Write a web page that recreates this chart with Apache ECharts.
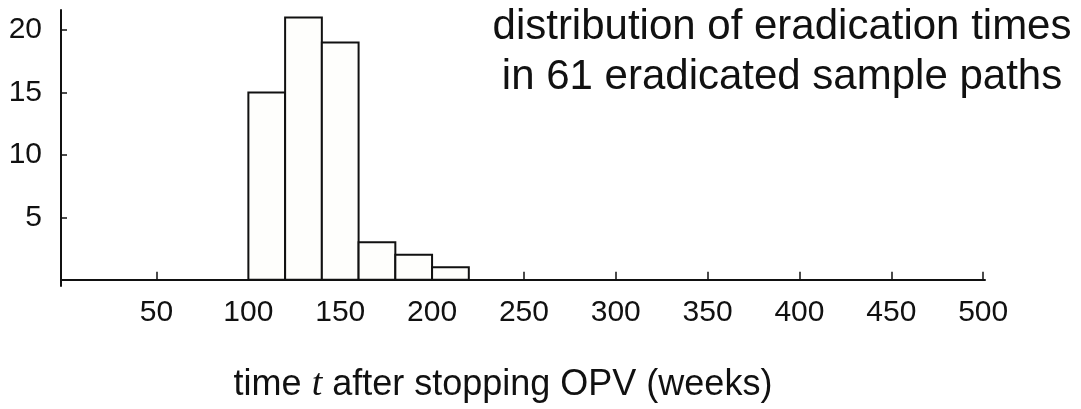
<!DOCTYPE html>
<html>
<head>
<meta charset="utf-8">
<script src="https://cdn.jsdelivr.net/npm/echarts@6/dist/echarts.min.js"></script>
<style>
  html, body { margin: 0; padding: 0; background: #ffffff; }
  #chart { width: 1081px; height: 409px; }
</style>
</head>
<body>
<div id="chart"></div>
<script>
// Histogram bins (weeks) and counts
const binStarts = [100, 120, 140, 160, 180, 200];
const binWidth = 20;
const counts = [15, 21, 19, 3, 2, 1];
// Tick labels
const xTicks = [50, 100, 150, 200, 250, 300, 350, 400, 450, 500];
const yTicks = [5, 10, 15, 20];
const titleLines = ['distribution of eradication times', 'in 61 eradicated sample paths'];

const histData = binStarts.map((s, i) => [s, s + binWidth, counts[i]]);

const chart = echarts.init(document.getElementById('chart'), null, { renderer: 'canvas' });
const FONT = '"Liberation Sans", Arial, Helvetica, sans-serif';
const INK = '#111111';

chart.setOption({
  animation: false,
  backgroundColor: '#ffffff',
  grid: { left: 61, right: 96, top: 10, bottom: 122, containLabel: false },
  xAxis: {
    type: 'value',
    min: -2,
    max: 501,
    splitLine: { show: false },
    axisLine: { show: true, onZero: true, lineStyle: { color: INK, width: 2 } },
    axisTick: { show: true, inside: true, length: 8, customValues: xTicks, lineStyle: { color: INK, width: 1.5 } },
    axisLabel: { show: true, customValues: xTicks, margin: 12, fontSize: 30, fontFamily: FONT, color: INK },
    name: '{a|time }{i|t}{a| after stopping OPV (weeks)}',
    nameLocation: 'middle',
    nameGap: 80,
    nameTextStyle: {
      padding: [0, 40, 0, 0],
      rich: {
        a: { fontSize: 36, fontFamily: FONT, color: INK },
        i: { fontSize: 38, fontFamily: '"Liberation Serif", "DejaVu Serif", serif', fontStyle: 'italic', color: INK }
      }
    }
  },
  yAxis: {
    type: 'value',
    min: -0.5,
    max: 21.6,
    splitLine: { show: false },
    axisLine: { show: true, onZero: false, lineStyle: { color: INK, width: 2 } },
    axisTick: { show: true, inside: true, length: 6, customValues: yTicks, lineStyle: { color: INK, width: 1.5 } },
    axisLabel: { show: true, customValues: yTicks, margin: 19, fontSize: 30, fontFamily: FONT, color: INK, padding: [0, 0, 6, 0] }
  },
  graphic: [{
    type: 'text',
    x: 782,
    y: 2,
    style: {
      text: titleLines.join('\n'),
      font: '42px ' + FONT,
      fill: INK,
      textAlign: 'center',
      textVerticalAlign: 'top',
      lineHeight: 50
    }
  }],
  series: [{
    type: 'custom',
    data: histData,
    encode: { x: [0, 1], y: 2 },
    renderItem: function (params, api) {
      const p0 = api.coord([api.value(0), api.value(2)]);
      const p1 = api.coord([api.value(1), 0]);
      return {
        type: 'rect',
        shape: { x: p0[0], y: p0[1], width: p1[0] - p0[0], height: p1[1] - p0[1] },
        style: { fill: '#fefefc', stroke: INK, lineWidth: 2 }
      };
    }
  }]
});
</script>
</body>
</html>
